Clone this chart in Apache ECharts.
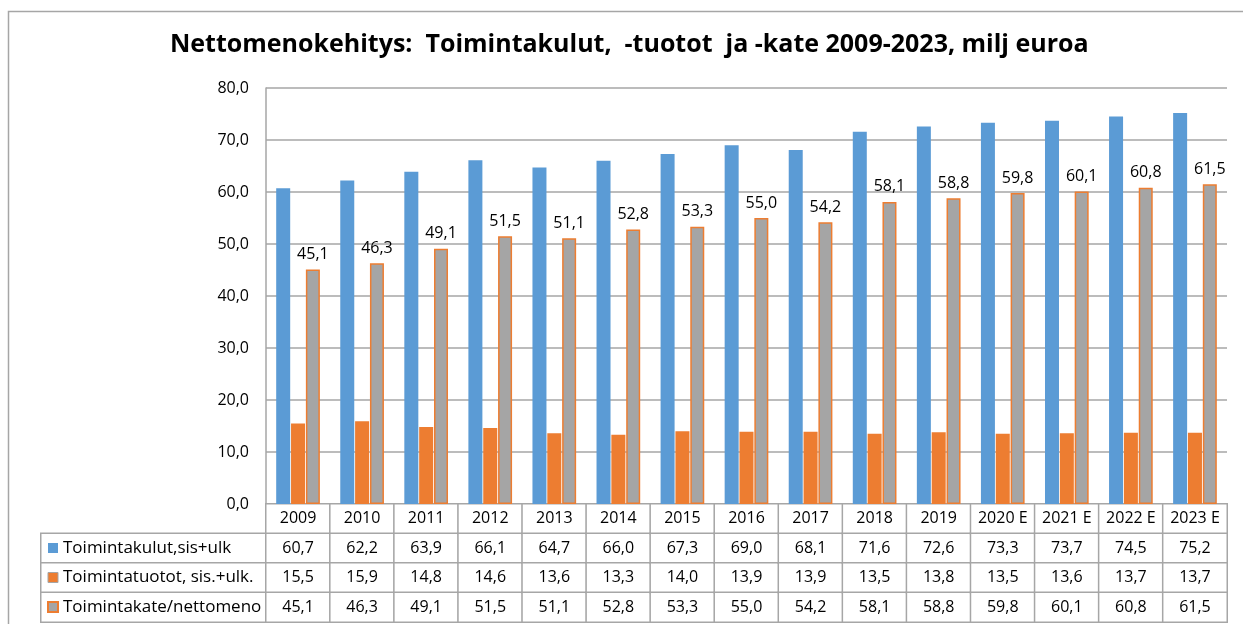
<!DOCTYPE html>
<html>
<head>
<meta charset="utf-8">
<script src="https://cdn.jsdelivr.net/npm/echarts@6/dist/echarts.min.js"></script>
<style>
html,body{margin:0;padding:0;background:#fff;}
#chart{width:1243px;height:624px;}
</style>
</head>
<body>
<div id="chart"></div>
<script>
const titleText = 'Nettomenokehitys:  Toimintakulut,  -tuotot  ja -kate 2009-2023, milj euroa';
const years = ['2009','2010','2011','2012','2013','2014','2015','2016','2017','2018','2019','2020 E','2021 E','2022 E','2023 E'];
const seriesNames = ['Toimintakulut,sis+ulk', 'Toimintatuotot, sis.+ulk.', 'Toimintakate/nettomeno'];
const kulut  = [60.7,62.2,63.9,66.1,64.7,66.0,67.3,69.0,68.1,71.6,72.6,73.3,73.7,74.5,75.2];
const tuotot = [15.5,15.9,14.8,14.6,13.6,13.3,14.0,13.9,13.9,13.5,13.8,13.5,13.6,13.7,13.7];
const kate   = [45.1,46.3,49.1,51.5,51.1,52.8,53.3,55.0,54.2,58.1,58.8,59.8,60.1,60.8,61.5];
const yTicks = {min: 0, max: 80, interval: 10};

const seriesValues = [kulut, tuotot, kate];
const fmt = v => v.toFixed(1).replace('.', ',');
const FONT = 'Open Sans';
const LINE = '#a6a6a6';
const BLUE = '#5b9bd5', ORANGE = '#ed7d31', GRAY = '#a5a5a5';

// table cells: row 0 = years, rows 1..3 = series values
const tableCells = [];
years.forEach((y, i) => {
  for (let r = 0; r < 4; r++) tableCells.push([i, r, 1]);
});
const legendCells = [[0,0,1],[0,1,1],[0,2,1]];

const chart = echarts.init(document.getElementById('chart'), null, {renderer: 'canvas'});
chart.setOption({
  animation: false,
  backgroundColor: '#fff',
  textStyle: {fontFamily: FONT},
  title: {
    text: titleText,
    left: 170,
    top: 32,
    padding: 0,
    textStyle: {fontFamily: FONT, fontWeight: 'bold', fontSize: 25, color: '#000'}
  },
  legend: {
    orient: 'vertical',
    left: 47,
    top: 538,
    padding: 0,
    itemWidth: 10,
    itemHeight: 10,
    itemGap: 9.5,
    icon: 'rect',
    selectedMode: false,
    textStyle: {fontFamily: FONT, fontSize: 17, color: '#000', lineHeight: 20},
    data: [
      {name: seriesNames[0]},
      {name: seriesNames[1], itemStyle: {borderColor: GRAY, borderWidth: 1}},
      {name: seriesNames[2]}
    ]
  },
  graphic: [{
    type: 'rect',
    shape: {x: 8.5, y: 11.5, width: 1400, height: 800},
    style: {fill: null, stroke: LINE, lineWidth: 1.5},
    silent: true, z: -10
  }],
  grid: [
    {left: 266, right: 16, top: 88, bottom: 120},
    {left: 266, right: 16, top: 504, bottom: 2},
    {left: 41, right: 1243 - 266, top: 533.5, bottom: 2}
  ],
  xAxis: [
    {type: 'category', gridIndex: 0, data: years, axisTick: {show: false}, axisLabel: {show: false},
     axisLine: {show: true, lineStyle: {color: LINE, width: 1.5}}},
    {type: 'category', gridIndex: 1, data: years, show: false},
    {type: 'category', gridIndex: 2, data: ['legend'], show: false}
  ],
  yAxis: [
    {type: 'value', gridIndex: 0, min: yTicks.min, max: yTicks.max, interval: yTicks.interval,
     axisLine: {show: true, lineStyle: {color: LINE, width: 1.5}},
     axisTick: {show: false},
     splitLine: {show: true, lineStyle: {color: LINE, width: 1.5}},
     axisLabel: {formatter: v => fmt(v), fontFamily: FONT, fontSize: 16, color: '#000', margin: 17}},
    {type: 'category', gridIndex: 1, data: ['y','a','b','c'], inverse: true, show: false},
    {type: 'category', gridIndex: 2, data: ['a','b','c'], inverse: true, show: false}
  ],
  series: [
    {name: seriesNames[0], type: 'bar', xAxisIndex: 0, yAxisIndex: 0, data: kulut,
     barWidth: 14, barGap: '6%', itemStyle: {color: BLUE}, emphasis: {disabled: true}},
    {name: seriesNames[1], type: 'bar', xAxisIndex: 0, yAxisIndex: 0, data: tuotot,
     barWidth: 14, barGap: '6%', itemStyle: {color: ORANGE}, emphasis: {disabled: true}},
    {name: seriesNames[2], type: 'bar', xAxisIndex: 0, yAxisIndex: 0, data: kate,
     barWidth: 14, barGap: '6%', itemStyle: {color: GRAY, borderColor: ORANGE, borderWidth: 1.5},
     emphasis: {disabled: true},
     label: {show: true, position: 'top', distance: 7, formatter: p => fmt(p.value),
             fontFamily: FONT, fontSize: 16, color: '#000'}},
    {name: 'table', type: 'heatmap', xAxisIndex: 1, yAxisIndex: 1, data: tableCells,
     itemStyle: {color: '#fff', borderColor: LINE, borderWidth: 1.5},
     emphasis: {disabled: true},
     label: {show: true, fontFamily: FONT, fontSize: 16, color: '#000',
       formatter: p => {
         const x = p.value[0], r = p.value[1];
         return r === 0 ? years[x] : fmt(seriesValues[r - 1][x]);
       }}},
    {name: 'legendCol', type: 'heatmap', xAxisIndex: 2, yAxisIndex: 2, data: legendCells,
     itemStyle: {color: '#fff', borderColor: LINE, borderWidth: 1.5},
     emphasis: {disabled: true}, label: {show: false}, z: 1}
  ]
});
</script>
</body>
</html>
